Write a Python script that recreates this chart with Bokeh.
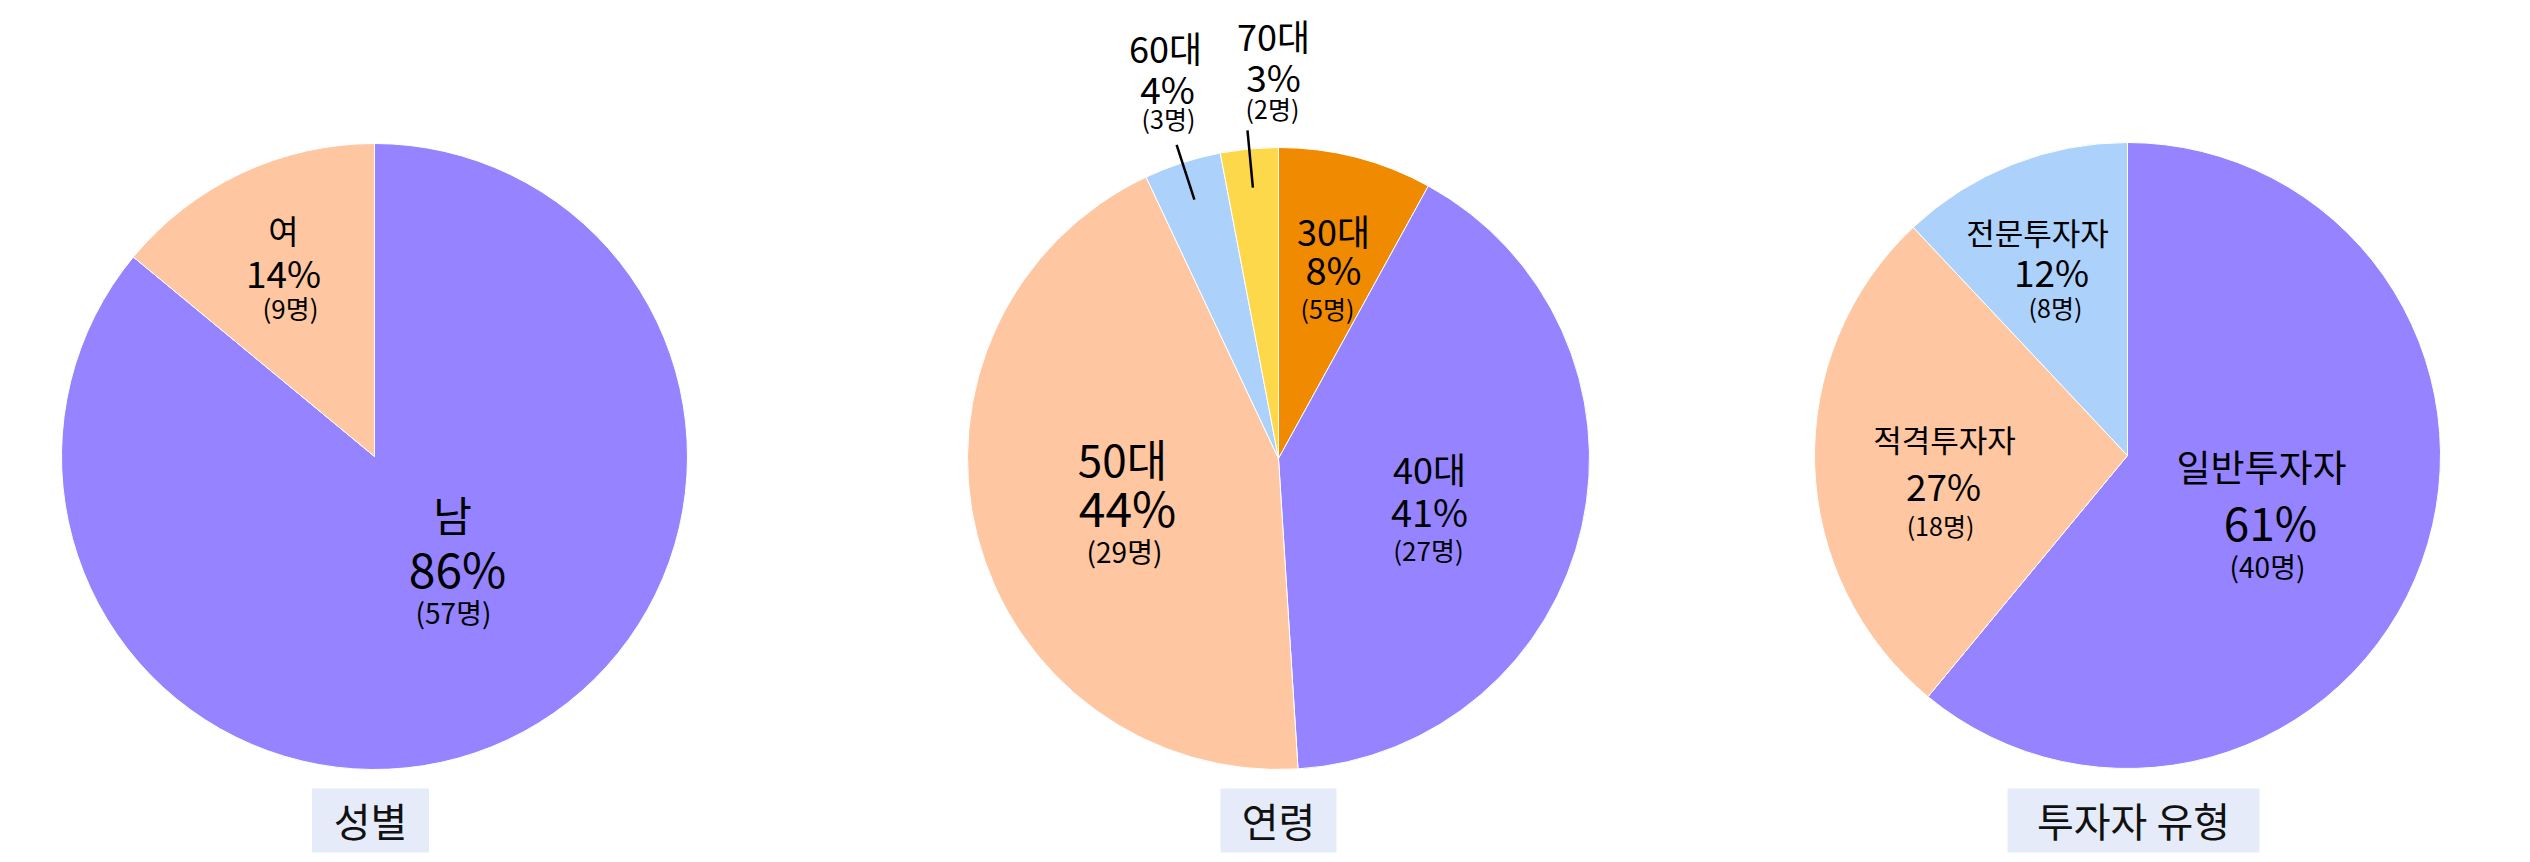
import numpy as np
from bokeh.plotting import figure
from bokeh.models import Range1d, ColumnDataSource
from bokeh.core.properties import value
from bokeh.embed import file_html
from bokeh.resources import INLINE

# ---------------- data ----------------
gender_labels = ["남", "여"]
gender_counts = [57, 9]
gender_pcts = [86, 14]

age_labels = ["30대", "40대", "50대", "60대", "70대"]
age_counts = [5, 27, 29, 3, 2]
age_pcts = [8, 41, 44, 4, 3]

inv_labels = ["일반투자자", "적격투자자", "전문투자자"]
inv_counts = [40, 18, 8]
inv_pcts = [61, 27, 12]

titles = ["성별", "연령", "투자자 유형"]

# ---------------- styles ----------------
PURPLE = "#9583FF"
PEACH = "#FEC6A1"
BLUE = "#ACD1FA"
YELLOW = "#FDD84B"
ORANGE = "#F08A00"
BOX = "#E5EBF8"
FONT = "Noto Sans CJK KR"

W, H = 2530, 862


def fx(px):
    return px


def fy(py):
    return H - py


pies = [
    dict(labels=gender_labels, counts=gender_counts, pcts=gender_pcts,
         colors=[PURPLE, PEACH], center=(374, 456), r=313,
         offsets=[[(78, 57), (83, 110), (79, 155)],
                  [(-91, -227), (-91, -185), (-84, -149)]],
         sizes=[(42, 48, 28), (33, 37, 26)], leader=[False, False],
         title=titles[0], title_x=370, box_w=117),
    dict(labels=age_labels, counts=age_counts, pcts=age_pcts,
         colors=[ORANGE, PURPLE, PEACH, BLUE, YELLOW], center=(1278, 458), r=311,
         offsets=[[(55, -229), (55, -190), (49, -151)],
                  [(151, 9), (151, 52), (150, 91)],
                  [(-156, -1), (-151, 47), (-154, 92)],
                  [(-113, -412), (-111, -371), (-110, -341)],
                  [(-5, -424), (-5, -383), (-6, -351)]],
         sizes=[(36, 38, 25), (36, 38, 26), (44, 48, 28), (36, 37, 25), (36, 37, 25)],
         leader=[False, False, False, True, True],
         title=titles[1], title_x=1278, box_w=116),
    dict(labels=inv_labels, counts=inv_counts, pcts=inv_pcts,
         colors=[PURPLE, PEACH, BLUE], center=(2127, 455), r=313,
         offsets=[[(134, 10), (143, 65), (140, 110)],
                  [(-183, -17), (-184, 29), (-187, 69)],
                  [(-90, -224), (-76, -185), (-72, -149)]],
         sizes=[(37, 46, 28), (31, 37, 25), (31, 37, 25)],
         leader=[False, False, False],
         title=titles[2], title_x=2133, box_w=252),
]

p = figure(width=W, height=H, x_range=Range1d(0, W), y_range=Range1d(0, H),
           output_backend="svg", toolbar_location=None,
           x_axis_type=None, y_axis_type=None, min_border=0)
p.grid.visible = False
p.outline_line_color = None
p.background_fill_color = "white"
p.border_fill_color = "white"

txt = dict(x=[], y=[], text=[], size=[])
seg = dict(x0=[], y0=[], x1=[], y1=[])

for pie in pies:
    shares = np.array(pie["pcts"], dtype=float)
    frac = shares / shares.sum()
    cum = np.concatenate([[0.0], np.cumsum(frac)])
    start = np.pi / 2 - cum[1:] * 2 * np.pi
    end = np.pi / 2 - cum[:-1] * 2 * np.pi
    cx, cy = fx(pie["center"][0]), fy(pie["center"][1])
    n = len(shares)
    src = ColumnDataSource(dict(x=[cx] * n, y=[cy] * n, start=start, end=end,
                                color=pie["colors"]))
    p.wedge(x="x", y="y", radius=pie["r"], start_angle="start", end_angle="end",
            fill_color="color", line_color="white", line_width=1, source=src)

    for i in range(n):
        strings = [pie["labels"][i], f"{pie['pcts'][i]}%", f"({pie['counts'][i]}명)"]
        for j in range(3):
            dx, dy = pie["offsets"][i][j]
            txt["x"].append(cx + dx)
            txt["y"].append(cy - dy)
            txt["text"].append(strings[j])
            txt["size"].append(f"{pie['sizes'][i][j]}px")
        if pie["leader"][i]:
            mid = (start[i] + end[i]) / 2
            r = pie["r"]
            seg["x0"].append(cx + 0.875 * r * np.cos(mid))
            seg["y0"].append(cy + 0.875 * r * np.sin(mid))
            seg["x1"].append(cx + 1.06 * r * np.cos(mid))
            seg["y1"].append(cy + 1.06 * r * np.sin(mid))

    # title box
    p.rect(x=fx(pie["title_x"]), y=fy(820), width=pie["box_w"], height=64,
           fill_color=BOX, line_color=None)
    p.text(x=[fx(pie["title_x"])], y=[fy(819)], text=[pie["title"]],
           text_font=value(FONT), text_font_size="40px", text_color="#111111",
           text_align="center", text_baseline="middle")

p.segment(x0="x0", y0="y0", x1="x1", y1="y1", source=ColumnDataSource(seg),
          line_color="black", line_width=2.5)

p.text(x="x", y="y", text="text", text_font_size="size", source=ColumnDataSource(txt),
       text_font=value(FONT), text_color="black", text_align="center",
       text_baseline="middle")

open("out.html", "w").write(file_html(p, INLINE))
